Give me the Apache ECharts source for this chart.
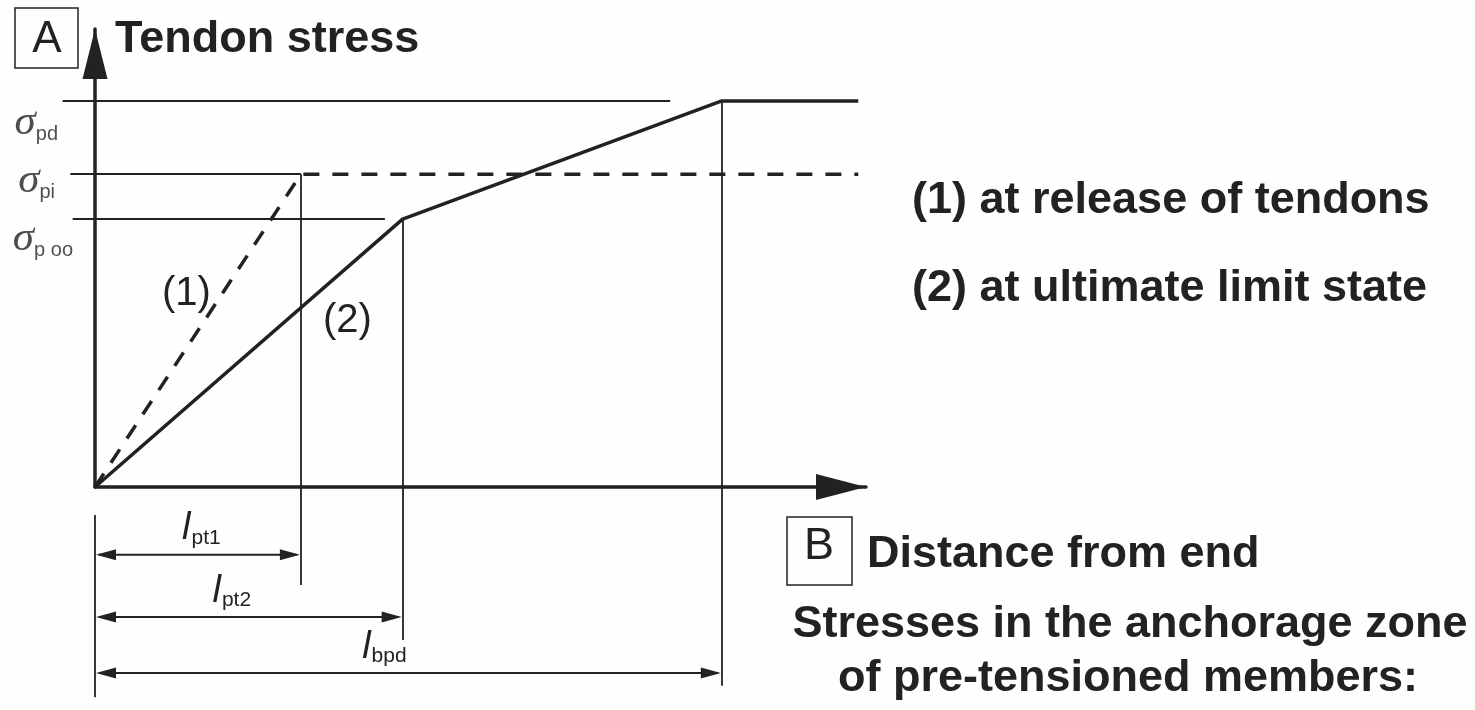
<!DOCTYPE html>
<html>
<head>
<meta charset="utf-8">
<title>Tendon stress</title>
<script src="https://cdn.jsdelivr.net/npm/echarts@6/dist/echarts.min.js"></script>
<style>
html, body { margin: 0; padding: 0; background: #fff; }
#chart { width: 1475px; height: 710px; }
</style>
</head>
<body>
<div id="chart"></div>
<script>
// distances from end (axis B), scale 0..100
const lengthNames = ['pt1', 'pt2', 'bpd'];
const lengths = [26.7, 39.9, 81.3];
// tendon stress levels (axis A), scale 0..100
const stressNames = ['pd', 'pi', 'p oo'];
const stressLevels = [84.3, 68.3, 58.5];
// (1) at release of tendons / (2) at ultimate limit state
const releaseCurve = [[0, 0], [26.7, 68.3], [99, 68.3]];
const ultimateCurve = [[0, 0], [39.9, 58.5], [81.3, 84.3], [99, 84.3]];

// layout only (where the helper lines start / stop, where the dimension rows sit)
const ink = '#222';
const refStart = [-4.2, -3.2, -2.9];
const refEnd = [74.6, lengths[0], 37.6];
const dimRow = [-14.8, -28.4, -40.6];
const dimDrop = [-21.4, -33.4, -43.4];
const dimLabelShift = [3.5, -17, -24];
const sigmaOffset = [[-37, 20], [-40, 5], [-22, 18]];

let myChart = echarts.init(document.getElementById('chart'));

let refLines = stressLevels.map((v, i) => ({ coords: [[refStart[i], v], [refEnd[i], v]] }));
let dropLines = [
    { coords: [[lengths[0], stressLevels[1]], [lengths[0], dimDrop[0]]] },
    { coords: [[lengths[1], stressLevels[2]], [lengths[1], dimDrop[1]]] },
    { coords: [[lengths[2], stressLevels[0]], [lengths[2], dimDrop[2]]] },
    { coords: [[0, -6.1], [0, -45.9]] }
];

function renderDim(params, api) {
    let i = params.dataIndex;
    let p0 = api.coord([0, api.value(1)]);
    let p1 = api.coord([api.value(0), api.value(1)]);
    let h = 20, w = 5.5;
    return {
        type: 'group',
        children: [
            { type: 'line', shape: { x1: p0[0] + 4, y1: p0[1], x2: p1[0] - 4, y2: p1[1] }, style: { stroke: ink, lineWidth: 2 } },
            { type: 'polygon', shape: { points: [[p0[0] + 1, p0[1]], [p0[0] + 1 + h, p0[1] - w], [p0[0] + 1 + h, p0[1] + w]] }, style: { fill: ink } },
            { type: 'polygon', shape: { points: [[p1[0] - 1, p1[1]], [p1[0] - 1 - h, p1[1] - w], [p1[0] - 1 - h, p1[1] + w]] }, style: { fill: ink } },
            {
                type: 'text',
                style: {
                    text: '{l|l}{s|' + lengthNames[i] + '}',
                    x: (p0[0] + p1[0]) / 2 + dimLabelShift[i],
                    y: p0[1] - 7,
                    align: 'center',
                    verticalAlign: 'bottom',
                    rich: {
                        l: { fontFamily: '"Liberation Sans", Arial', fontStyle: 'italic', fontSize: 38, lineHeight: 38, verticalAlign: 'top', fill: ink },
                        s: { fontFamily: '"Liberation Sans", Arial', fontSize: 21, lineHeight: 21, padding: [19, 0, 0, 1], fill: ink }
                    }
                }
            }
        ]
    };
}

const bold = 'bold 45px "Liberation Sans", Arial, sans-serif';

let option = {
    animation: false,
    backgroundColor: '#fefefe',
    grid: { left: 95, top: 29, right: 609, bottom: 223, containLabel: false },
    xAxis: {
        type: 'value', min: 0, max: 100,
        axisLine: {
            show: true, onZero: false,
            symbol: ['none', 'triangle'], symbolSize: [26, 50], symbolOffset: [0, -25],
            lineStyle: { color: ink, width: 3.5 }
        },
        axisTick: { show: false }, axisLabel: { show: false }, splitLine: { show: false }
    },
    yAxis: {
        type: 'value', min: 0, max: 100,
        axisLine: {
            show: true, onZero: false,
            symbol: ['none', 'triangle'], symbolSize: [25, 50], symbolOffset: [0, -25],
            lineStyle: { color: ink, width: 3.5 }
        },
        axisTick: { show: false }, axisLabel: { show: false }, splitLine: { show: false }
    },
    series: [
        {
            type: 'lines', coordinateSystem: 'cartesian2d', clip: false, silent: true, z: 2,
            lineStyle: { color: ink, width: 1.8, opacity: 1 },
            data: refLines.concat(dropLines)
        },
        {
            name: '(1) at release of tendons', type: 'line', data: releaseCurve, symbol: 'none', z: 3,
            lineStyle: { color: ink, width: 3.5, type: [16, 13] }
        },
        {
            name: '(2) at ultimate limit state', type: 'line', data: ultimateCurve, symbol: 'none', z: 3,
            lineStyle: { color: ink, width: 3.5 }
        },
        {
            type: 'custom', coordinateSystem: 'cartesian2d', clip: false, silent: true, z: 2,
            data: lengths.map((v, i) => [v, dimRow[i]]),
            renderItem: renderDim
        },
        {
            type: 'scatter', symbolSize: 0, silent: true, z: 4,
            data: stressLevels.map((v, i) => ({ value: [0, v], label: { offset: sigmaOffset[i] } })),
            label: {
                show: true, position: 'left', distance: 0,
                formatter: p => '{g|σ}{s|' + stressNames[p.dataIndex] + '}',
                rich: {
                    g: { fontFamily: '"Liberation Serif", serif', fontStyle: 'italic', fontSize: 43, lineHeight: 40, verticalAlign: 'top', color: ink },
                    s: { fontFamily: '"Liberation Sans", Arial', fontSize: 20, lineHeight: 20, padding: [27, 0, 0, 0], color: ink }
                }
            }
        }
    ],
    graphic: [
        { type: 'rect', shape: { x: 15, y: 8, width: 63, height: 60 }, style: { fill: 'none', stroke: ink, lineWidth: 1.5 } },
        { type: 'text', style: { text: 'A', x: 47, y: 40, font: 'normal 44px "Liberation Sans", Arial', fill: ink, align: 'center', verticalAlign: 'middle' } },
        { type: 'text', style: { text: 'Tendon stress', x: 115, y: 40, font: bold, fill: ink, align: 'left', verticalAlign: 'middle' } },
        { type: 'text', style: { text: '(1) at release of tendons', x: 912, y: 201, font: bold, fill: ink, align: 'left', verticalAlign: 'middle' } },
        { type: 'text', style: { text: '(2) at ultimate limit state', x: 912, y: 289, font: bold, fill: ink, align: 'left', verticalAlign: 'middle' } },
        { type: 'rect', shape: { x: 787, y: 517, width: 65, height: 68 }, style: { fill: 'none', stroke: ink, lineWidth: 1.5 } },
        { type: 'text', style: { text: 'B', x: 819, y: 547, font: 'normal 45px "Liberation Sans", Arial', fill: ink, align: 'center', verticalAlign: 'middle' } },
        { type: 'text', style: { text: 'Distance from end', x: 867, y: 555, font: bold, fill: ink, align: 'left', verticalAlign: 'middle' } },
        { type: 'text', style: { text: 'Stresses in the anchorage zone', x: 1130, y: 625, font: bold, fill: ink, align: 'center', verticalAlign: 'middle' } },
        { type: 'text', style: { text: 'of pre-tensioned members:', x: 1128, y: 679, font: bold, fill: ink, align: 'center', verticalAlign: 'middle' } },
        { type: 'text', style: { text: '(1)', x: 162, y: 294, font: 'normal 40px "Liberation Sans", Arial', fill: ink, align: 'left', verticalAlign: 'middle' } },
        { type: 'text', style: { text: '(2)', x: 323, y: 321, font: 'normal 40px "Liberation Sans", Arial', fill: ink, align: 'left', verticalAlign: 'middle' } }
    ]
};

myChart.setOption(option, true);
window.addEventListener('resize', function () {
    myChart.resize();
});
</script>
</body>
</html>
